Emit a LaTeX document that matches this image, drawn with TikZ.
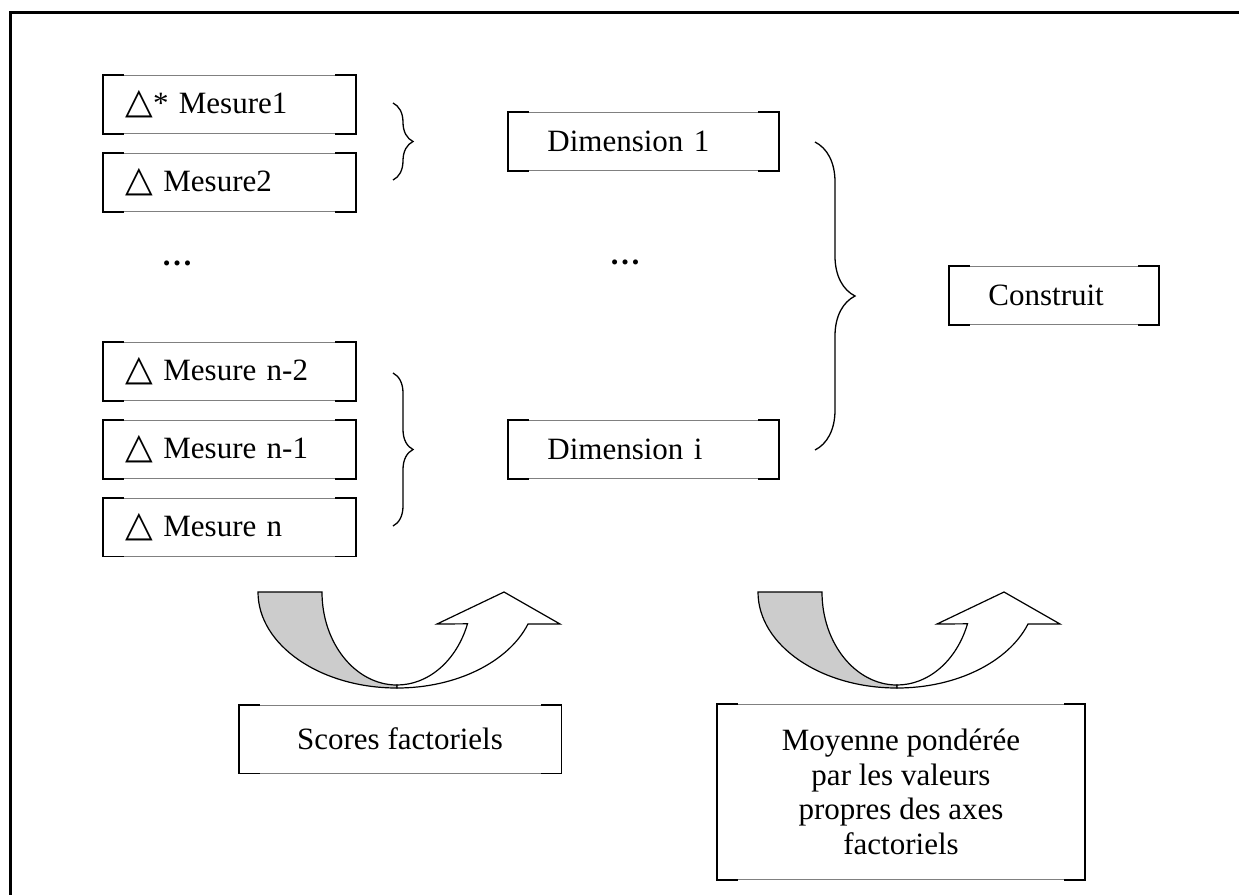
\documentclass[tikz,border=0pt]{standalone}
\usepackage{fontspec}
\setmainfont{Liberation Serif}
\newfontfamily\symfont{DejaVu Sans}
\usetikzlibrary{positioning,decorations.pathreplacing}

\newcommand{\tri}{{\symfont\bfseries\fontsize{36}{30}\selectfont △}}

\tikzset{
  boite/.style={rectangle, draw=black!50, line width=0.8pt, inner ysep=0pt, align=left,
    append after command={
      ([xshift=20pt]\tikzlastnode.north west) edge[cote] (\tikzlastnode.north west)
      (\tikzlastnode.north west) edge[cote] (\tikzlastnode.south west)
      (\tikzlastnode.south west) edge[cote] ([xshift=20pt]\tikzlastnode.south west)
      ([xshift=-20pt]\tikzlastnode.north east) edge[cote] (\tikzlastnode.north east)
      (\tikzlastnode.north east) edge[cote] (\tikzlastnode.south east)
      (\tikzlastnode.south east) edge[cote] ([xshift=-20pt]\tikzlastnode.south east)}},
  cote/.style={draw=black, line width=1.8pt, line cap=rect},
  mesure/.style={boite, minimum height=58pt, text width=208pt, inner xsep=22pt},
  dimension/.style={boite, minimum height=58pt, inner xsep=39pt},
  accolade/.style={decorate, decoration={brace, amplitude=#1}, line width=1.3pt},
  dos/.style={fill=black!20, draw, line width=1.2pt},
  devant/.style={fill=white, draw, line width=1.2pt}
}

\begin{document}
\begin{tikzpicture}[x=1pt, y=-1pt, font=\fontsize{31}{34.5}\selectfont]
  \useasboundingbox (0,0) rectangle (1239,895);
  \draw[line width=3pt] (1239,12) -- (10,12) -- (10,895);

  \node[mesure, anchor=north west] (m1) at (103,75) {\tri* Mesure1};
  \node[mesure, below=19pt of m1] (m2) {\tri\ Mesure2};
  \node (pm) at (177,263) {\textbf{…}};
  \node[mesure, anchor=north west] (mn2) at (103,342) {\tri\ Mesure n-2};
  \node[mesure, below=19pt of mn2] (mn1) {\tri\ Mesure n-1};
  \node[mesure, below=19pt of mn1] (mn) {\tri\ Mesure n};

  \node[dimension, text width=192pt, anchor=north west] (d1) at (508,112) {Dimension 1};
  \node (pd) at (625,262) {\textbf{…}};
  \node[dimension, text width=192pt, anchor=north west] (di) at (508,420) {Dimension i};
  \node[dimension, text width=131pt, anchor=north west] (c) at (949,266) {Construit};

  \draw[accolade=20] (393,103) -- (393,180);
  \draw[accolade=20] (393,373) -- (393,526);
  \draw[accolade=40] (815,142) -- (815,450);

  \foreach \dx in {0,500} {
    \begin{scope}[xshift=\dx pt]
      \draw[dos] (258,592) -- (322,592) arc[start angle=180, end angle=90, x radius=75, y radius=93]
        -- (397,688) arc[start angle=90, end angle=180, x radius=139, y radius=96] -- cycle;
      \draw[devant] (397,685) arc[start angle=90, end angle=20, x radius=75, y radius=93]
        -- (437,624) -- (504,592) -- (560,624) -- (528,624)
        arc[start angle=19.47, end angle=90, x radius=139, y radius=96] -- cycle;
    \end{scope}
  }

  \node[boite, minimum width=322pt, minimum height=68pt, align=center] (sf) at (400,739) {Scores factoriels};
  \node[boite, minimum width=367pt, minimum height=175pt, align=center] (mp) at (901,792)
    {Moyenne pondérée\\par les valeurs\\propres des axes\\factoriels};
\end{tikzpicture}
\end{document}
